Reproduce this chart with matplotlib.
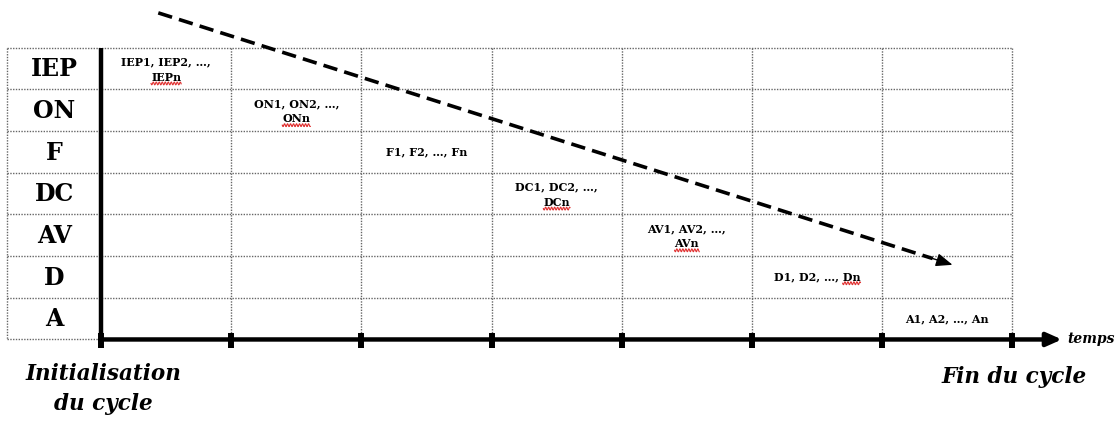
import numpy as np
import matplotlib
matplotlib.use("Agg")
import matplotlib.pyplot as plt

plt.rcParams['font.family'] = ['DejaVu Serif']

# phases of the cycle (one row each) and what happens in each time slot
phases = ['IEP', 'ON', 'F', 'DC', 'AV', 'D', 'A']
first_line = ['IEP1, IEP2, …,', 'ON1, ON2, …,', 'F1, F2, …, Fn', 'DC1, DC2, …,',
              'AV1, AV2, …,', 'D1, D2, …, Dn', 'A1, A2, …, An']
second_line = ['IEPn', 'ONn', '', 'DCn', 'AVn', '', '']
underlined = ['IEPn', 'ONn', '', 'DCn', 'AVn', 'Dn', '']
n_steps = 7
time_label = 'temps'
start_label = 'Initialisation\ndu cycle'
end_label = 'Fin du cycle'

# trend arrow (grid units: columns = time steps, rows = phases)
trend_start = (0.44, -0.83)
trend_end = (6.54, 5.21)

# pixel geometry of the grid
col_w, row_h = 130.2, 41.71
x0_px, y0_px = 101, 47.5
W, H = 1118, 421

fig = plt.figure(figsize=(W / 100, H / 100), dpi=100)
ax = fig.add_axes([0, 0, 1, 1])
ax.set_xlim(-x0_px / col_w, (W - x0_px) / col_w)
ax.set_ylim((H - y0_px) / row_h, -y0_px / row_h)
ax.axis('off')

n_rows = len(phases)
left = -0.72
dot = dict(color='#666666', lw=1.0, ls=(0, (1, 1)))
cell_fs = 8

# dotted grid
for r in range(n_rows + 1):
    ax.plot([left, n_steps], [r, r], **dot)
for c in [left] + list(range(1, n_steps + 1)):
    ax.plot([c, c], [0, n_rows], **dot)

# axes
ax.plot([0, 0], [0, n_rows + 0.05], color='k', lw=3.2, solid_capstyle='butt')
ax.annotate('', xy=(n_steps + 0.38, n_rows), xytext=(0, n_rows),
            arrowprops=dict(arrowstyle='-|>,head_length=9,head_width=4', mutation_scale=1,
                            lw=3.2, color='k', shrinkA=0, shrinkB=0))
ticks = np.arange(0, n_steps + 1)
ax.vlines(ticks, n_rows - 0.15, n_rows + 0.2, color='k', lw=4.3)

ax.text(n_steps + 0.42, n_rows + 0.09, time_label, fontsize=10, fontweight='bold',
        style='italic', ha='left', va='baseline')

# row labels
for i, p in enumerate(phases):
    ax.text(left / 2, i + 0.52, p, fontsize=17, fontweight='bold', ha='center', va='center')

# cell texts
fig.canvas.draw()
renderer = fig.canvas.get_renderer()
inv = ax.transData.inverted()


def squiggle(x_a, x_b, y):
    xs = np.linspace(x_a, x_b, 60)
    n_waves = (x_b - x_a) * col_w / 3.0
    ys = y + 0.035 * np.sin(np.linspace(0, 2 * np.pi * n_waves, 60))
    ax.plot(xs, ys, color='#e03030', lw=0.8)


for i in range(n_rows):
    if second_line[i]:
        ax.text(i + 0.5, i + 0.35, first_line[i], fontsize=cell_fs, fontweight='bold',
                ha='center', va='center')
        t = ax.text(i + 0.5, i + 0.71, second_line[i], fontsize=cell_fs, fontweight='bold',
                    ha='center', va='center')
    else:
        t = ax.text(i + 0.5, i + 0.5, first_line[i], fontsize=cell_fs, fontweight='bold',
                    ha='center', va='center')
    if underlined[i]:
        bb = t.get_window_extent(renderer)
        tmp = ax.text(0, 0, underlined[i], fontsize=cell_fs, fontweight='bold')
        w = tmp.get_window_extent(renderer).width
        tmp.remove()
        (xa, yb), (xb, _) = inv.transform([(bb.x1 - w, bb.y0), (bb.x1, bb.y0)])
        squiggle(xa, xb, yb + 0.02)

# dashed trend arrow
sx, sy = trend_start
ex, ey = trend_end
frac = 0.975
ax.plot([sx, sx + frac * (ex - sx)], [sy, sy + frac * (ey - sy)], color='k', lw=2.6,
        dashes=(4, 2), solid_capstyle='butt')
ax.annotate('', xy=(ex, ey), xytext=(sx + 0.97 * (ex - sx), sy + 0.97 * (ey - sy)),
            arrowprops=dict(arrowstyle='-|>,head_length=10,head_width=4', mutation_scale=1,
                            lw=1, color='k', shrinkA=0, shrinkB=0))

# start / end labels
ax.text(0.015, 8.18, start_label, fontsize=15.5, fontweight='bold', style='italic',
        ha='center', va='center', multialignment='center', linespacing=1.45)
ax.text(7.01, 7.9, end_label, fontsize=15.5, fontweight='bold', style='italic',
        ha='center', va='center')

fig.savefig('out.png', dpi=100, facecolor='white')
